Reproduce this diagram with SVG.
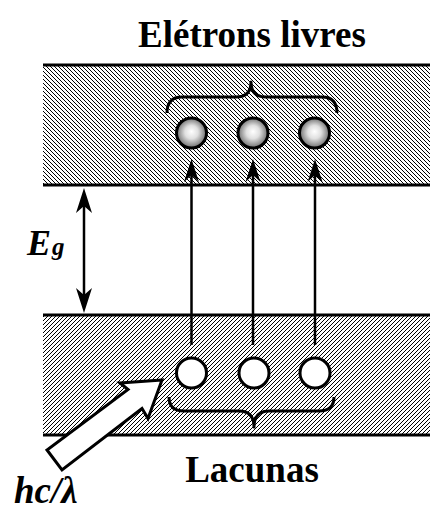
<svg xmlns="http://www.w3.org/2000/svg" width="430" height="514" viewBox="0 0 430 514">
<style>
.t{font-family:"Liberation Serif","Times New Roman",serif;font-weight:bold;fill:#000}
.it{font-style:italic}
.band-line{stroke:#000;stroke-width:3;fill:none}
.brace{stroke:#000;stroke-width:3;fill:none;stroke-linejoin:round}
.conn{stroke:#000;stroke-width:2.5;fill:none}
.hole{fill:#fff;stroke:#000;stroke-width:3}
.elec{fill:url(#eg);stroke:#000;stroke-width:3}
</style>
<defs>
<pattern id="hatchA" patternUnits="userSpaceOnUse" width="4" height="4">
<rect width="4" height="4" fill="#fff"/>
<path d="M-1,-1 L5,5 M-1,3 L1,5 M3,-1 L5,1" stroke="#000" stroke-width="1"/>
</pattern>
<pattern id="hatchB" patternUnits="userSpaceOnUse" width="4" height="4">
<rect width="4" height="4" fill="#fff"/>
<path d="M-1,5 L5,-1 M-1,1 L1,-1 M3,5 L5,3" stroke="#000" stroke-width="1"/>
</pattern>
<radialGradient id="eg" cx="0.5" cy="0.5" r="0.55" fx="0.5" fy="0.45">
<stop offset="0" stop-color="#ffffff"/>
<stop offset="0.4" stop-color="#e0e0e0"/>
<stop offset="1" stop-color="#5a5a5a"/>
</radialGradient>
<marker id="ah" viewBox="-28 -10 30 20" refX="-10" refY="0" markerWidth="30" markerHeight="20" markerUnits="userSpaceOnUse" orient="auto-start-reverse">
<path d="M0,0 L-25,-8 L-18,0 L-25,8 Z" fill="#000"/>
</marker>
<marker id="ahs" viewBox="-28 -10 30 20" refX="-10" refY="0" markerWidth="30" markerHeight="20" markerUnits="userSpaceOnUse" orient="auto">
<path d="M0,0 L-23,-7.5 L-16,0 L-23,7.5 Z" fill="#000"/>
</marker>
</defs>

<g id="conduction-band">
<rect x="43" y="65" width="390" height="120" fill="url(#hatchA)"/>
<line class="band-line" x1="43" y1="65" x2="432" y2="65"/>
<line class="band-line" x1="43" y1="185" x2="432" y2="185"/>
</g>
<g id="valence-band">
<rect x="43" y="315" width="390" height="120" fill="url(#hatchB)"/>
<line class="band-line" x1="43" y1="315" x2="432" y2="315"/>
<line class="band-line" x1="43" y1="435" x2="432" y2="435"/>
</g>

<g id="title"><text class="t" x="252" y="47" font-size="37" text-anchor="middle">Elétrons livres</text></g>
<g id="label-lacunas"><text class="t" x="252" y="482" font-size="37" text-anchor="middle">Lacunas</text></g>
<g id="label-eg"><text class="t it" x="27" y="255" font-size="36">E<tspan font-size="25" dx="1">g</tspan></text></g>
<g id="label-photon"><text class="t it" x="14" y="503" font-size="37">hc/λ</text></g>

<g id="brace-top"><path class="brace" d="M167,113 Q167,97 182,97 L236,97 Q251,97 251,82 Q251,97 266,97 L322,97 Q337,97 337,113"/></g>
<g id="brace-bottom"><path class="brace" d="M169,397 Q169,411 184,411 L239,411 Q254,411 254,427 Q254,411 269,411 L319,411 Q334,411 334,397"/></g>

<g id="electron-1"><circle class="elec" cx="191.5" cy="133" r="15"/></g>
<g id="electron-2"><circle class="elec" cx="253" cy="133" r="15"/></g>
<g id="electron-3"><circle class="elec" cx="314.5" cy="133" r="15"/></g>
<g id="hole-1"><circle class="hole" cx="191.5" cy="373" r="15"/></g>
<g id="hole-2"><circle class="hole" cx="254" cy="373" r="15"/></g>
<g id="hole-3"><circle class="hole" cx="315" cy="373" r="15"/></g>

<g id="photon">
<polygon points="162,380 120,383 128,389.5 47,450 62,470 142,408.5 148,418.5" fill="#fff" stroke="#000" stroke-width="3" stroke-linejoin="miter"/>
</g>

<g id="connectors">
<line class="conn" x1="191.5" y1="345" x2="191.5" y2="169" marker-end="url(#ahs)"/>
<line class="conn" x1="253" y1="345" x2="253" y2="169" marker-end="url(#ahs)"/>
<line class="conn" x1="315" y1="345" x2="315" y2="169" marker-end="url(#ahs)"/>
<line class="conn" x1="84" y1="198" x2="84" y2="303" marker-start="url(#ah)" marker-end="url(#ah)"/>
</g>
</svg>
